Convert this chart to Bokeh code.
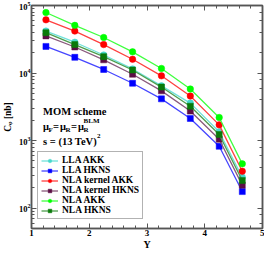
import math
from bokeh.plotting import figure
from bokeh.models import (LinearAxis, LogAxis, Legend, LegendItem, Label,
                          SingleIntervalTicker, LogTicker, CustomJSTickFormatter)
from bokeh.embed import file_html
from bokeh.resources import INLINE

# ---- data ----
rapidity = [1.25, 1.75, 2.25, 2.75, 3.25, 3.75, 4.25, 4.65]
lla_akk = [41800, 28600, 18500, 11500, 6470, 3590, 1350, 287]
lla_hkns = [24800, 17100, 11300, 7060, 4150, 2130, 824, 176]
nla_kernel_akk = [61300, 41800, 26400, 16000, 9100, 4570, 1710, 352]
nla_kernel_hkns = [35500, 24300, 15700, 9600, 5450, 2740, 1050, 219]
nla_akk = [78700, 50800, 33600, 20600, 11700, 5810, 2200, 453]
nla_hkns = [39600, 26400, 17500, 11100, 6200, 3230, 1230, 257]

series_names = ["LLA AKK", "LLA HKNS", "NLA kernel AKK", "NLA kernel HKNS", "NLA AKK", "NLA HKNS"]
series_values = [lla_akk, lla_hkns, nla_kernel_akk, nla_kernel_hkns, nla_akk, nla_hkns]
marker_colors = ["#48D8CC", "#0000FF", "#FF0000", "#5C0E45", "#00FF00", "#0A7A0A"]
line_colors = ["#70E2DA", "#4646FF", "#FF4040", "#8A5A7C", "#40FF40", "#4E9E4E"]
series_markers = ["circle", "square", "circle", "square", "circle", "square"]

X_RANGE = (1, 5)
Y_RANGE = (50, 1e5)

FONT = "Liberation Serif"
W, H = 264, 252
BL, BR, BT, BB = 31, 2, 5, 23

p = figure(width=W, height=H, x_range=X_RANGE, y_range=Y_RANGE, y_axis_type="log",
           output_backend="svg", toolbar_location=None, title=None,
           min_border_left=BL, min_border_right=BR, min_border_top=BT, min_border_bottom=BB,
           x_axis_label="Y", y_axis_label="C\u1D69 [nb]")
p.grid.visible = False
p.outline_line_color = "#555555"
p.outline_line_width = 1.5
p.background_fill_color = "white"
p.border_fill_color = "white"

p.xaxis.ticker = SingleIntervalTicker(interval=1, num_minor_ticks=5)


def style_axis(ax):
    ax.axis_line_color = "#555555"
    ax.axis_line_width = 1.5
    ax.major_tick_in = 5
    ax.major_tick_out = 0
    ax.minor_tick_in = 3
    ax.minor_tick_out = 0
    ax.major_tick_line_color = "#555555"
    ax.minor_tick_line_color = "#555555"
    ax.major_label_text_font = FONT
    ax.major_label_text_font_style = "bold"
    ax.major_label_text_font_size = "9px"
    ax.major_label_text_color = "black"
    ax.axis_label_text_font = FONT
    ax.axis_label_text_font_style = "bold"
    ax.axis_label_text_font_size = "10px"
    ax.axis_label_text_color = "black"
    ax.axis_label_standoff = 0
    ax.major_label_standoff = 1


style_axis(p.xaxis[0])
style_axis(p.yaxis[0])
p.yaxis[0].major_label_text_font_size = "8.5px"
p.yaxis[0].axis_label_text_font_size = "9.5px"
p.yaxis[0].axis_label_standoff = 3


def blank_axis(ax):
    style_axis(ax)
    ax.formatter = CustomJSTickFormatter(code="return ''")
    ax.major_label_text_font_size = "1px"
    ax.major_label_standoff = 0


top = LinearAxis(ticker=SingleIntervalTicker(interval=1, num_minor_ticks=5))
blank_axis(top)
p.add_layout(top, "above")
right = LogAxis(ticker=LogTicker())
blank_axis(right)
p.add_layout(right, "right")

items = []
for name, vals, mcol, lcol, mk in zip(series_names, series_values, marker_colors,
                                      line_colors, series_markers):
    ln = p.line(rapidity, vals, line_color=lcol, line_width=1.3)
    sc = p.scatter(rapidity, vals, marker=mk, size=6.5 if mk == "circle" else 6,
                   fill_color=mcol, line_color=mcol, line_width=0.5)
    items.append(LegendItem(label=name, renderers=[ln, sc]))

leg = Legend(items=items, location=(6, 9), orientation="vertical")
leg.label_text_font = FONT
leg.label_text_font_style = "bold"
leg.label_text_font_size = "9.5px"
leg.label_text_color = "black"
leg.label_height = 9
leg.label_standoff = 4
leg.glyph_width = 17
leg.glyph_height = 9
leg.spacing = 0
leg.padding = 3
leg.margin = 0
leg.border_line_color = "#666666"
leg.border_line_width = 1
leg.background_fill_alpha = 1
p.add_layout(leg, "center")

# ---- annotation text: anchors taken from the reference frame geometry ----
REF_L, REF_R, REF_T, REF_B = 31, 270, 5, 237


def to_data(px, py):
    x = X_RANGE[0] + (px - REF_L) / (REF_R - REF_L) * (X_RANGE[1] - X_RANGE[0])
    ly0, ly1 = math.log10(Y_RANGE[0]), math.log10(Y_RANGE[1])
    ly = ly1 - (py - REF_T) / (REF_B - REF_T) * (ly1 - ly0)
    return x, 10 ** ly


def put(text, anchor, size, dx=0, dy=0):
    x, y = to_data(*anchor)
    p.add_layout(Label(x=x, y=y, x_offset=dx, y_offset=dy, text=text, text_font=FONT,
                       text_font_style="bold", text_font_size=size, text_color="black",
                       text_baseline="middle", text_align="left"))


put("MOM scheme", (43, 115), "10.5px")
mu_anchor = (43, 131)
put("\u03bc", mu_anchor, "10.5px")
put("F", mu_anchor, "7px", dx=5.5, dy=-3)
put("=", mu_anchor, "10.5px", dx=10)
put("\u03bc", mu_anchor, "10.5px", dx=17)
put("R", mu_anchor, "7px", dx=22.5, dy=-3)
put("=", mu_anchor, "10.5px", dx=28)
put("\u03bc", mu_anchor, "10.5px", dx=35)
put("R", mu_anchor, "7px", dx=40.5, dy=-3)
put("BLM", mu_anchor, "7px", dx=40.5, dy=6)
s_anchor = (43, 146)
put("s = (13 TeV)", s_anchor, "10.5px")
put("2", s_anchor, "7px", dx=54, dy=5)

open("out.html", "w").write(file_html(p, INLINE))
